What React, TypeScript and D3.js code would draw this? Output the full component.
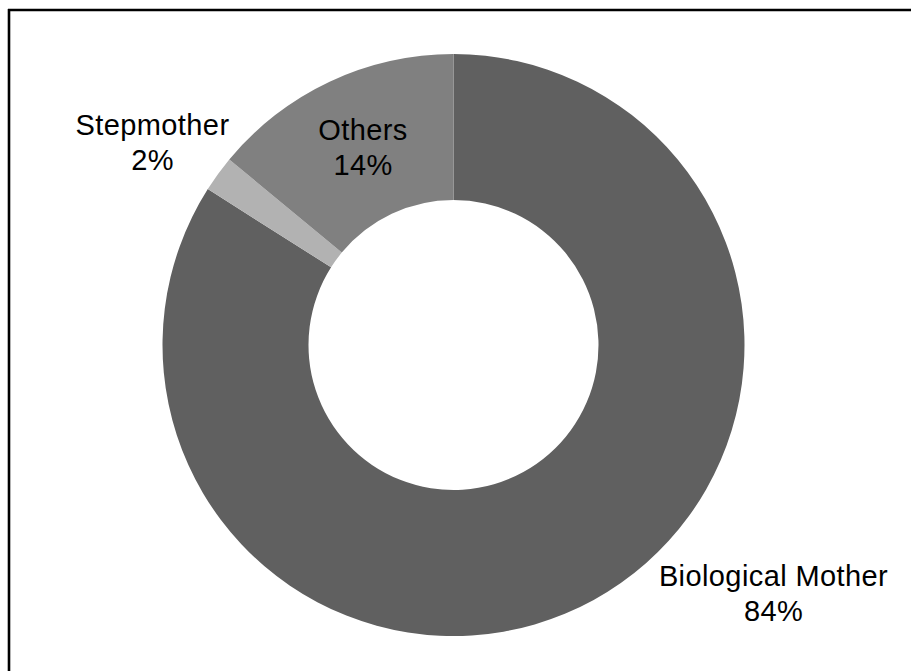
import React from "react";
import * as d3 from "d3";

const categories = ["Biological Mother", "Stepmother", "Others"];
const values = [84, 2, 14];
const percentLabels = ["84%", "2%", "14%"];
const colors = ["#606060", "#b2b2b2", "#808080"];

const W = 911;
const H = 671;
const cx = 453.5;
const cy = 345;
const outerR = 291;
const innerR = 145;

// label anchor positions (center x, baseline of first line)
const labelPos: [number, number][] = [
  [773.5, 586],
  [152.5, 135],
  [363, 140],
];

export default function App() {
  const pie = d3
    .pie<number>()
    .sort(null)
    .value((d) => d)
    .startAngle(0)
    .endAngle(2 * Math.PI);
  const arcs = pie(values);
  const arcGen = d3
    .arc<d3.PieArcDatum<number>>()
    .innerRadius(innerR)
    .outerRadius(outerR);

  return (
    <svg
      width={W}
      height={H}
      style={{ position: "fixed", left: 0, top: 0, background: "#fff" }}
      fontFamily="'Liberation Sans', Arial, sans-serif"
    >
      <rect x={0} y={0} width={W} height={H} fill="#fff" />
      <line x1={8} y1={10} x2={W} y2={10} stroke="#000" strokeWidth={2.6} />
      <line x1={9} y1={9} x2={9} y2={H} stroke="#000" strokeWidth={2.6} />
      <g transform={`translate(${cx},${cy})`}>
        {arcs.map((a, i) => (
          <path key={categories[i]} d={arcGen(a) || ""} fill={colors[i]} />
        ))}
      </g>
      {categories.map((c, i) => (
        <text
          key={c}
          x={labelPos[i][0]}
          textAnchor="middle"
          fontSize={29}
          letterSpacing={0.4}
          fill="#000"
        >
          <tspan x={labelPos[i][0]} y={labelPos[i][1]}>
            {c}
          </tspan>
          <tspan x={labelPos[i][0]} y={labelPos[i][1] + 35}>
            {percentLabels[i]}
          </tspan>
        </text>
      ))}
    </svg>
  );
}
